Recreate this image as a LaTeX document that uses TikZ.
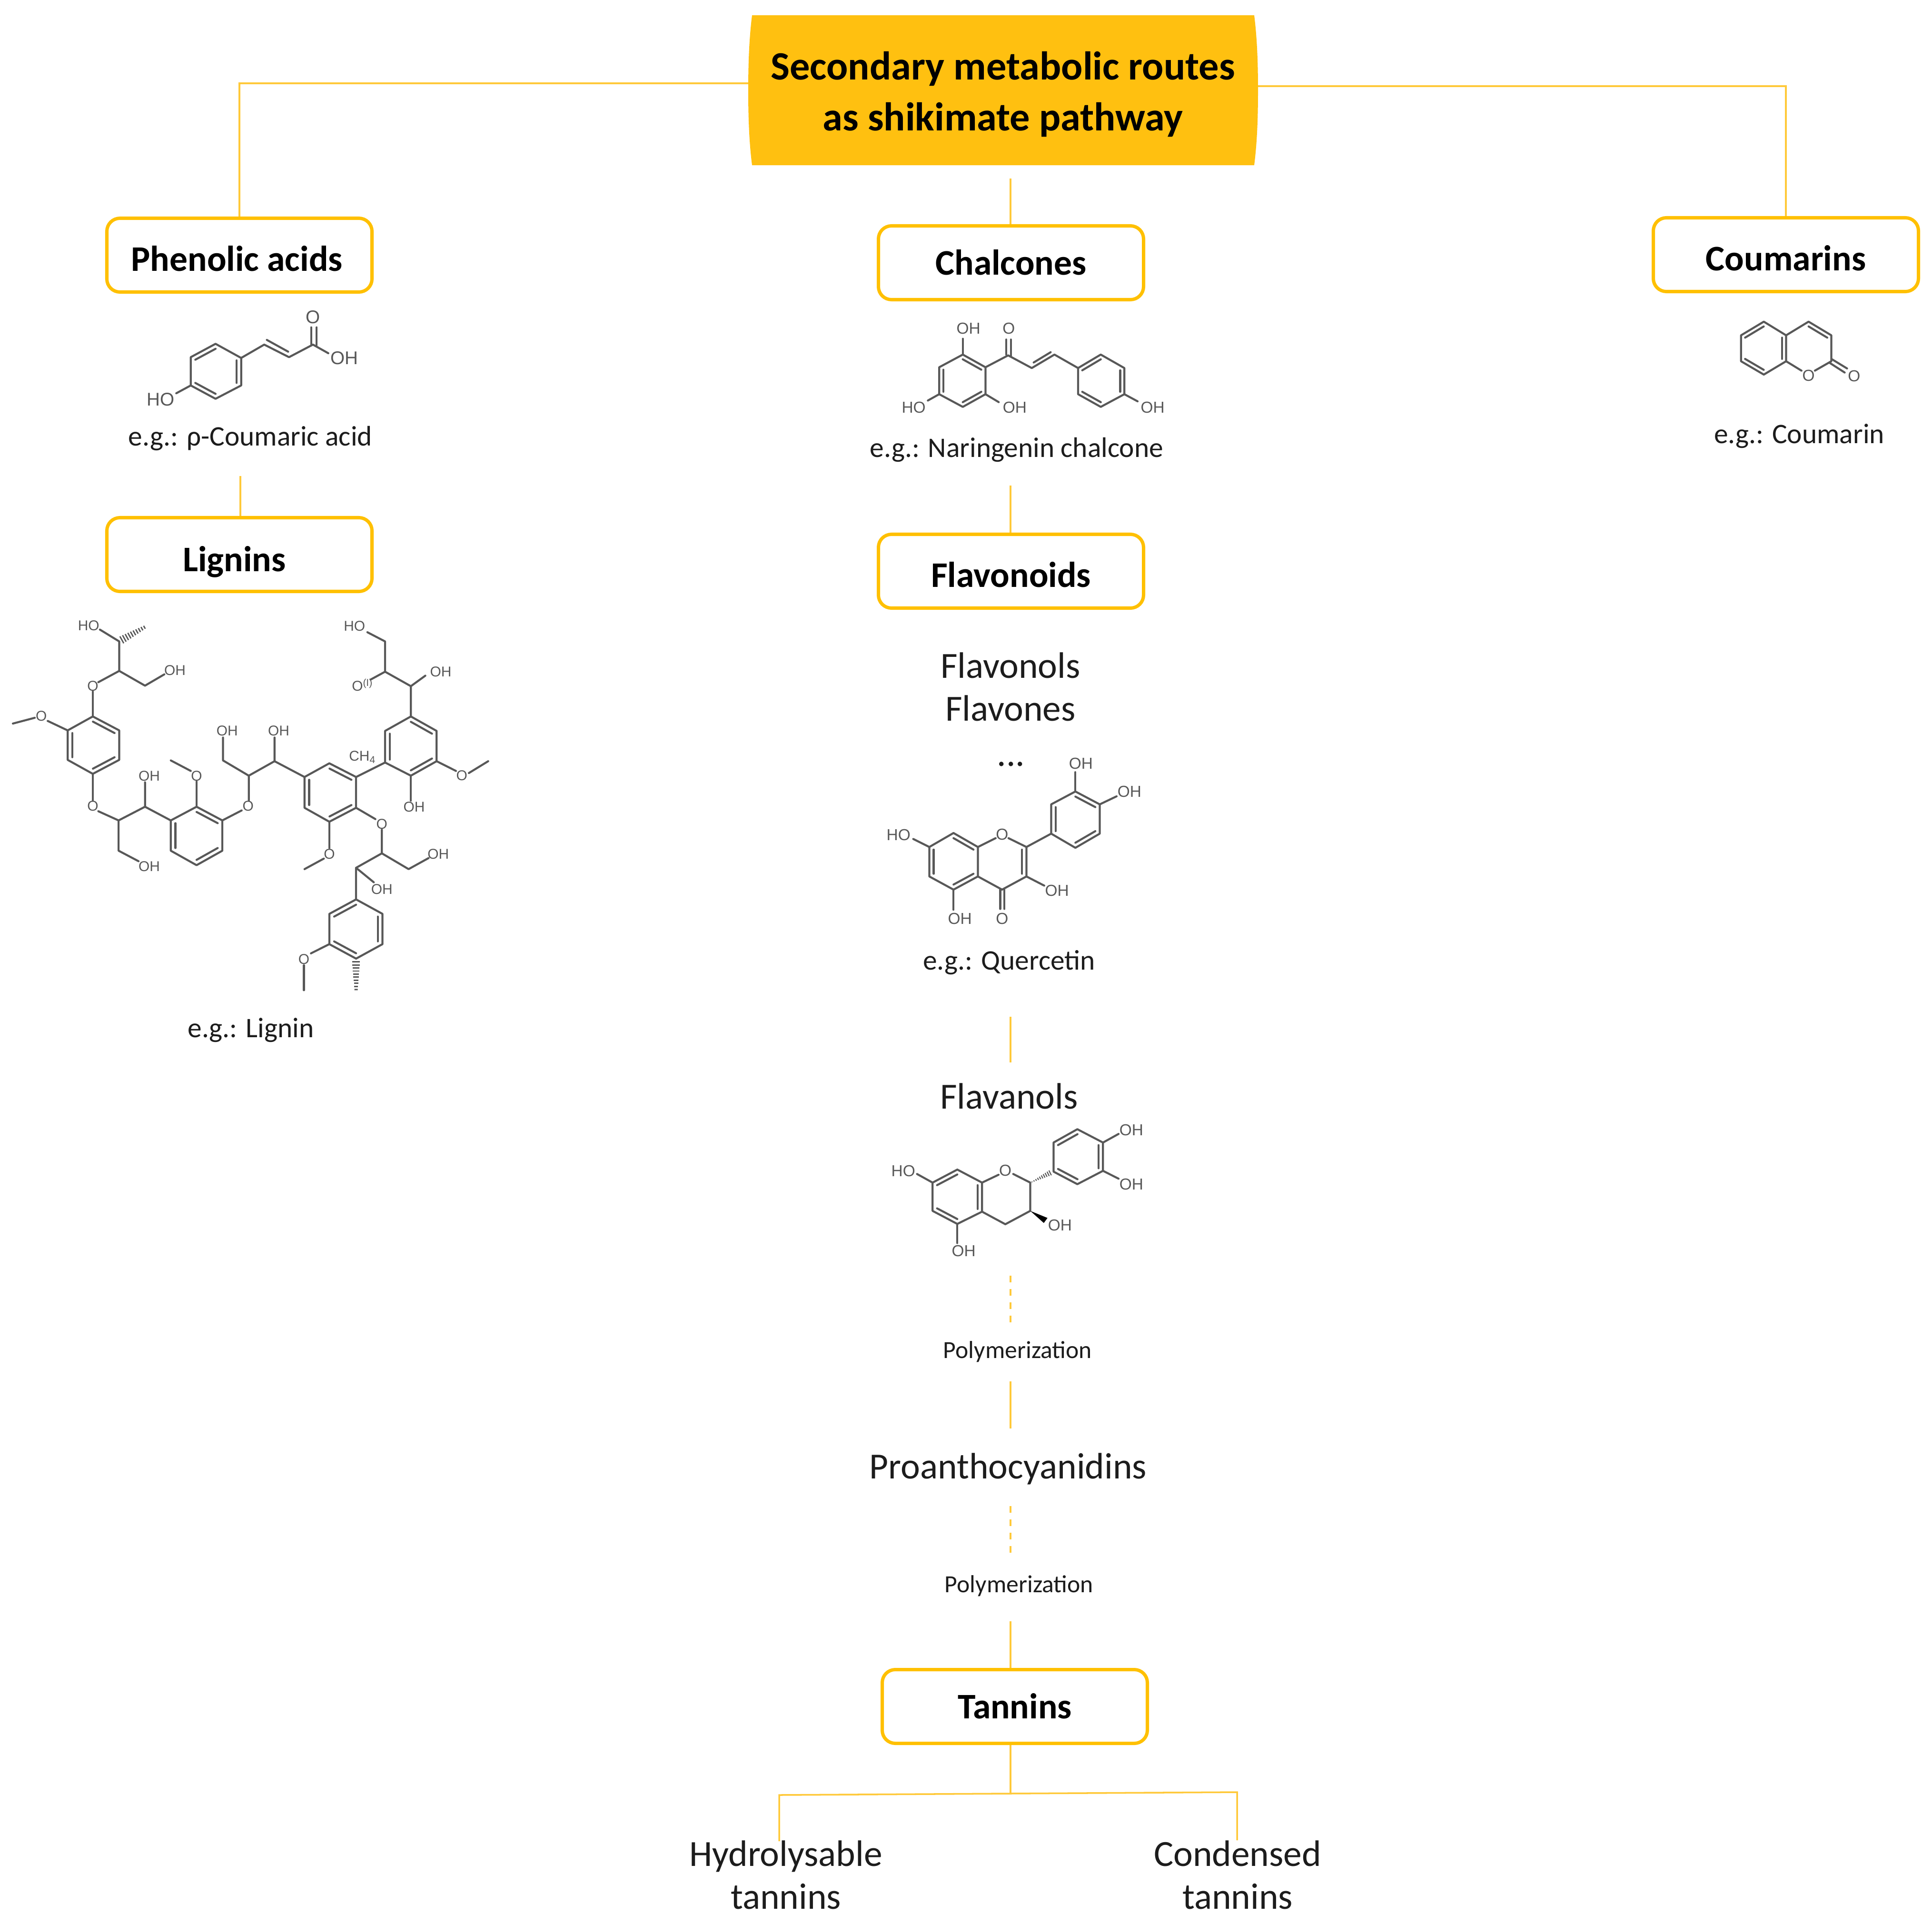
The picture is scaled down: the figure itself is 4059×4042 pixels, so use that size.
\documentclass[tikz,border=0pt]{standalone}
\usepackage{fontspec}
\setmainfont{Carlito}
\newfontfamily\chemfont{Liberation Sans}
\usetikzlibrary{calc}
\definecolor{amberfill}{HTML}{FFC010}
\definecolor{amberline}{HTML}{FFC000}
\definecolor{linkamber}{HTML}{FFC93A}
\definecolor{bondgray}{HTML}{585858}
\definecolor{labelblack}{HTML}{1C1C1C}
\tikzset{
  groupbox/.style={draw=amberline, line width=2pt, rounded corners=7.8pt, fill=white, minimum width=557*0.01cm, minimum height=155*0.01cm, inner sep=0pt, text height=14.5pt, text depth=0pt, font=\bfseries\fontsize{21.5pt}{25pt}\selectfont},
  link/.style={draw=linkamber, line width=1pt},
  dashlink/.style={link, dashed, dash pattern=on 4pt off 4pt},
  classname/.style={inner sep=0pt, text=labelblack, font=\fontsize{22pt}{25.5pt}\selectfont, align=center},
  example/.style={inner sep=0pt, text=labelblack, font=\fontsize{16.9pt}{20pt}\selectfont},
  stepnote/.style={inner sep=0pt, text=labelblack, font=\fontsize{14.7pt}{17pt}\selectfont},
  bond/.style={draw=bondgray, line width=1.2pt, line join=round, line cap=round},
  atom/.style={inner sep=0pt, text=bondgray, font=\chemfont\fontsize{#1}{#1}\selectfont},
  atom/.default=9.5pt
}
\newcommand{\ringdbl}[3]{\draw[bond] ($(#1)!.18!(#2)$) -- ($(#3)!.18!(#2)$);}
\newcommand{\hashbond}[4]{\foreach \t in {0,0.1,...,0.95} \draw[draw=bondgray, line width={(#3+#4*\t)*1pt}] ($(#1)!\t!(#2)$) -- ($(#1)!\t+0.045!(#2)$);}
\begin{document}
\begin{tikzpicture}[x=0.01cm, y=-0.01cm]
\useasboundingbox (0,0) rectangle (4059,4042);
\fill[amberfill] (1580,32) .. controls (1574,80) and (1572,130) .. (1572,190) .. controls (1572,250) and (1574,300) .. (1580,347) -- (2635,347) .. controls (2641,300) and (2643,250) .. (2643,190) .. controls (2643,130) and (2641,80) .. (2635,32) -- cycle;
\node[inner sep=0pt, minimum width=1071*0.01cm, minimum height=315*0.01cm, align=center, font=\bfseries\fontsize{24pt}{30.4pt}\selectfont] (main) at (2107,198) {Secondary metabolic routes\\as shikimate pathway};

\node[groupbox, text height=18.9pt] (phenolic) at (503,536) {Phenolic acids\hspace*{3pt}};
\node[groupbox] (chalcones) at (2124,552) {Chalcones};
\node[groupbox, text height=18.9pt] (coumarins) at (3752,535) {Coumarins};
\node[groupbox, text height=20.4pt] (lignins) at (503,1165) {Lignins\hspace*{6pt}};
\node[groupbox, text height=18.9pt] (flavonoids) at (2124,1200) {Flavonoids};
\node[groupbox] (tannins) at (2132,3585) {Tannins};

\node[example] (excoumaric) at (526,921) {e.g.: ρ-Coumaric acid};
\node[example] (exnaringenin) at (2136,945) {e.g.: Naringenin chalcone};
\node[example] (excoumarin) at (3780,916) {e.g.: Coumarin};
\node[example] (exlignin) at (527,2164) {e.g.: Lignin};
\node[classname] (flavonols) at (2123,1398) {Flavonols};
\node[classname] (flavones) at (2123,1488) {Flavones};
\node[classname] (more) at (2124,1605) {...};
\node[example] (exquercetin) at (2120,2022) {e.g.: Quercetin};
\node[classname] (flavanols) at (2120,2303) {Flavanols};
\node[stepnote] (polyone) at (2138,2840) {Polymerization};
\node[classname] (proantho) at (2118,3086) {Proanthocyanidins};
\node[stepnote] (polytwo) at (2141,3332) {Polymerization};
\node[classname] (hydrolysable) at (1651,3939) {Hydrolysable\\tannins};
\node[classname] (condensed) at (2600,3939) {Condensed\\tannins};

\coordinate (mainleft) at (1572,175);
\coordinate (mainright) at (2643,181);
\coordinate (chalconetop) at (2123,375);
\coordinate (ligninstart) at (505,1000);
\coordinate (flavonoidstart) at (2123,1020);
\coordinate (flavanoltop) at (2123,2136);
\coordinate (flavanolend) at (2123,2232);
\coordinate (polyonetop) at (2123,2680);
\coordinate (polyoneend) at (2123,2783);
\coordinate (proanthotop) at (2123,2902);
\coordinate (proanthoend) at (2123,3001);
\coordinate (polytwotop) at (2123,3164);
\coordinate (polytwoend) at (2123,3262);
\coordinate (tanninstart) at (2123,3406);
\coordinate (forkmid) at (2123,3768);
\coordinate (forkleft) at (1637,3771);
\coordinate (forkright) at (2599,3765);
\coordinate (hydrolysabletop) at (1637,3868);
\coordinate (condensedtop) at (2599,3866);

\draw[link] (mainleft) -| (phenolic.north);
\draw[link] (mainright) -| (coumarins.north);
\draw[link] (chalconetop) -- (chalconetop |- chalcones.north);
\draw[link] (ligninstart) -- (ligninstart |- lignins.north);
\draw[link] (flavonoidstart) -- (flavonoidstart |- flavonoids.north);
\draw[link] (flavanoltop) -- (flavanolend);
\draw[dashlink] (polyonetop) -- (polyoneend);
\draw[link] (proanthotop) -- (proanthoend);
\draw[dashlink] (polytwotop) -- (polytwoend);
\draw[link] (tanninstart) -- (tanninstart |- tannins.north);
\draw[link] (forkmid |- tannins.south) -- (forkmid);
\draw[link] (hydrolysabletop) -- (forkleft) -- (forkright) -- (condensedtop);

\begin{scope}[shift={(250,620)}, xscale=0.359, yscale=0.33]
\draw[bond] (715,400) -- (715,575) -- (565,660) -- (420,575) -- (420,395) -- (565,310) -- cycle;
\ringdbl{565,310}{567,485}{420,395}
\ringdbl{715,400}{567,485}{715,575}
\ringdbl{420,575}{567,485}{565,660}
\draw[bond] (420,575) -- (335,625);
\draw[bond] (715,400) -- (850,315) -- (995,395) -- (1135,315) -- (1225,370);
\draw[bond] (865,285) -- (990,360);
\draw[bond] (1125,315) -- (1125,205);
\draw[bond] (1157,325) -- (1157,205);
\node[atom=11pt] (cahydroxy) at (245,665) {HO};
\node[atom=11pt] (caoxo) at (1135,140) {O};
\node[atom=11pt] (caacid) at (1320,400) {OH};
\end{scope}

\begin{scope}[shift={(1860,650)}, xscale=0.397, yscale=0.333]
\draw[bond] (410,285) -- (530,365) -- (530,535) -- (410,615) -- (285,535) -- (285,365) -- cycle;
\ringdbl{410,285}{408,450}{530,365}
\ringdbl{530,535}{408,450}{410,615}
\ringdbl{285,365}{408,450}{285,535}
\draw[bond] (1020,370) -- (1140,285) -- (1265,370) -- (1265,535) -- (1140,615) -- (1020,535) -- cycle;
\ringdbl{1020,370}{1142,450}{1140,285}
\ringdbl{1265,370}{1142,450}{1265,535}
\ringdbl{1140,615}{1142,450}{1020,535}
\draw[bond] (410,285) -- (410,185);
\draw[bond] (285,535) -- (225,575);
\draw[bond] (530,535) -- (600,585);
\draw[bond] (530,365) -- (650,290) -- (775,370) -- (895,285) -- (1020,370);
\draw[bond] (785,335) -- (875,270);
\draw[bond] (640,285) -- (640,190);
\draw[bond] (664,295) -- (664,190);
\draw[bond] (1265,535) -- (1335,580);
\node[atom] (ncupper) at (440,120) {OH};
\node[atom] (ncoxo) at (653,120) {O};
\node[atom] (ncleft) at (150,620) {HO};
\node[atom] (nclower) at (685,620) {OH};
\node[atom] (ncright) at (1415,620) {OH};
\end{scope}

\begin{scope}[shift={(3600,650)}, xscale=0.33, yscale=0.33]
\draw[bond] (320,78) -- (462,165) -- (462,330) -- (320,415) -- (175,330) -- (175,165) -- cycle;
\ringdbl{320,78}{318,247}{175,165}
\ringdbl{462,165}{318,247}{462,330}
\ringdbl{320,415}{318,247}{175,330}
\draw[bond] (462,165) -- (605,78) -- (750,165) -- (750,330) -- (645,390);
\draw[bond] (560,390) -- (462,330);
\ringdbl{605,78}{605,247}{750,165}
\draw[bond] (755,318) -- (850,376);
\draw[bond] (742,342) -- (835,402);
\node[atom] (cmring) at (605,420) {O};
\node[atom] (cmoxo) at (895,425) {O};
\end{scope}

\begin{scope}[shift={(1830,1558)}, xscale=0.385, yscale=0.338]
\draw[bond] (450,568) -- (583,655) -- (583,838) -- (450,920) -- (318,838) -- (318,655) -- cycle;
\ringdbl{450,568}{450,745}{583,655}
\ringdbl{583,838}{450,745}{450,920}
\ringdbl{318,655}{450,745}{318,838}
\draw[bond] (583,655) -- (680,600);
\draw[bond] (750,600) -- (848,655) -- (848,838) -- (715,920) -- (583,838);
\ringdbl{848,655}{715,745}{848,838}
\draw[bond] (705,920) -- (705,1040);
\draw[bond] (728,920) -- (728,1040);
\draw[bond] (318,655) -- (230,605);
\draw[bond] (450,920) -- (450,1045);
\draw[bond] (848,838) -- (945,895);
\draw[bond] (848,655) -- (983,572);
\draw[bond] (983,572) -- (983,390) -- (1115,310) -- (1248,390) -- (1248,572) -- (1115,660) -- cycle;
\ringdbl{983,390}{1115,485}{983,572}
\ringdbl{1115,310}{1115,485}{1248,390}
\ringdbl{1248,572}{1115,485}{1115,660}
\draw[bond] (1115,310) -- (1115,190);
\draw[bond] (1248,390) -- (1340,340);
\node[atom] (qcleft) at (150,580) {HO};
\node[atom] (qclower) at (485,1100) {OH};
\node[atom] (qcring) at (715,578) {O};
\node[atom] (qcoxo) at (715,1100) {O};
\node[atom] (qcthree) at (1015,925) {OH};
\node[atom] (qcupper) at (1145,135) {OH};
\node[atom] (qcright) at (1410,310) {OH};
\end{scope}

\begin{scope}[shift={(1838,2331)}, xscale=0.385, yscale=0.33]
\draw[bond] (450,382) -- (585,465) -- (585,650) -- (450,728) -- (315,645) -- (315,465) -- cycle;
\ringdbl{450,382}{450,555}{315,465}
\ringdbl{585,465}{450,555}{585,650}
\ringdbl{315,645}{450,555}{450,728}
\draw[bond] (585,465) -- (675,415);
\draw[bond] (755,410) -- (848,465) -- (848,645) -- (712,730) -- (585,650);
\draw[bond] (315,465) -- (230,410);
\draw[bond] (450,728) -- (450,850);
\hashbond{855,462}{965,398}{0.5}{3}
\fill[black] (848,645) -- (922,722) -- (942,690) -- cycle;
\draw[bond] (975,395) -- (975,210) -- (1105,125) -- (1245,210) -- (1245,390) -- (1105,475) -- cycle;
\ringdbl{975,210}{1110,300}{1105,125}
\ringdbl{1245,210}{1110,300}{1245,390}
\ringdbl{1105,475}{1110,300}{975,395}
\draw[bond] (1245,210) -- (1330,155);
\draw[bond] (1245,390) -- (1330,440);
\node[atom] (ctleft) at (155,390) {HO};
\node[atom] (ctlower) at (485,900) {OH};
\node[atom] (ctring) at (712,388) {O};
\node[atom] (ctthree) at (1010,735) {OH};
\node[atom] (ctupper) at (1400,130) {OH};
\node[atom] (ctright) at (1400,475) {OH};
\end{scope}

\begin{scope}[shift={(0,1248)}, xscale=0.677, yscale=0.553]
\hashbond{450,125}{372,178}{2}{3}
\draw[bond] (310,135) -- (370,180) -- (370,292) -- (450,348) -- (510,305);
\draw[bond] (370,292) -- (305,335);
\draw[bond] (288,370) -- (288,465);
\draw[bond] (288,465) -- (370,518) -- (370,630) -- (288,683) -- (210,630) -- (210,518) -- cycle;
\ringdbl{288,465}{290,574}{370,518}
\ringdbl{370,630}{290,574}{288,683}
\ringdbl{210,518}{290,574}{210,630}
\draw[bond] (210,518) -- (148,482);
\draw[bond] (108,470) -- (40,492);
\draw[bond] (288,683) -- (288,785);
\draw[bond] (305,825) -- (368,860) -- (450,808) -- (450,715);
\draw[bond] (368,860) -- (368,975) -- (430,1015);
\draw[bond] (450,808) -- (530,860);
\draw[bond] (530,860) -- (610,808) -- (690,860) -- (690,975) -- (610,1030) -- (530,975) -- cycle;
\ringdbl{610,808}{610,918}{690,860}
\ringdbl{690,975}{610,918}{610,1030}
\ringdbl{530,860}{610,918}{530,975}
\draw[bond] (610,808) -- (610,712);
\draw[bond] (592,672) -- (530,632);
\draw[bond] (690,860) -- (750,822);
\draw[bond] (772,785) -- (772,690) -- (692,632) -- (692,545);
\draw[bond] (772,690) -- (852,635) -- (852,545);
\draw[bond] (852,635) -- (945,695);
\draw[bond] (945,695) -- (1022,643) -- (1105,695) -- (1105,812) -- (1022,865) -- (945,812) -- cycle;
\ringdbl{1022,643}{1025,754}{1105,695}
\ringdbl{1105,812}{1025,754}{1022,865}
\ringdbl{945,695}{1025,754}{945,812}
\draw[bond] (1105,695) -- (1195,640);
\draw[bond] (1022,865) -- (1022,965);
\draw[bond] (1005,1005) -- (945,1045);
\draw[bond] (1105,812) -- (1165,855);
\draw[bond] (1185,895) -- (1185,985) -- (1268,1045) -- (1330,1003);
\draw[bond] (1185,985) -- (1105,1040) -- (1105,1160);
\draw[bond] (1105,1040) -- (1160,1095);
\draw[bond] (1105,1160) -- (1187,1215) -- (1187,1330) -- (1105,1385) -- (1022,1330) -- (1022,1215) -- cycle;
\ringdbl{1105,1160}{1105,1272}{1022,1215}
\ringdbl{1187,1215}{1105,1272}{1187,1330}
\ringdbl{1022,1330}{1105,1272}{1105,1385}
\draw[bond] (1022,1330) -- (965,1365);
\draw[bond] (943,1410) -- (943,1505);
\hashbond{1105,1505}{1105,1388}{2}{3}
\draw[bond] (1275,465) -- (1355,520) -- (1355,635) -- (1275,690) -- (1195,640) -- (1195,520) -- cycle;
\ringdbl{1275,465}{1275,578}{1355,520}
\ringdbl{1355,635}{1275,578}{1275,690}
\ringdbl{1195,520}{1275,578}{1195,640}
\draw[bond] (1355,635) -- (1415,672);
\draw[bond] (1455,680) -- (1515,635);
\draw[bond] (1275,690) -- (1275,785);
\draw[bond] (1275,465) -- (1275,350) -- (1195,295) -- (1195,180) -- (1140,145);
\draw[bond] (1195,295) -- (1150,325);
\draw[bond] (1275,350) -- (1320,310);
\node[atom=8.5pt] (lgtophydroxy) at (275,120) {HO};
\node[atom=8.5pt] (lgtopacid) at (543,290) {OH};
\node[atom=8.5pt] (lgtopether) at (288,350) {O};
\node[atom=8.5pt] (lgmethoxya) at (128,463) {O};
\node[atom=8.5pt] (lgethera) at (288,805) {O};
\node[atom=8.5pt] (lgalcohola) at (463,692) {OH};
\node[atom=8.5pt] (lgalcoholb) at (463,1035) {OH};
\node[atom=8.5pt] (lgmethoxyb) at (610,692) {O};
\node[atom=8.5pt] (lgetherb) at (770,805) {O};
\node[atom=8.5pt] (lgalcoholc) at (705,520) {OH};
\node[atom=8.5pt] (lgalcohold) at (865,520) {OH};
\node[atom=8.5pt] (lgmethoxyc) at (1022,988) {O};
\node[atom=8.5pt] (lgetherc) at (1185,873) {O};
\node[atom=8.5pt] (lgalcohole) at (1360,987) {OH};
\node[atom=8.5pt] (lgalcoholf) at (1185,1122) {OH};
\node[atom=8.5pt] (lgmethoxyd) at (943,1387) {O};
\node[atom=8.5pt] (lgmethyl) at (1125,620) {CH\textsubscript{4}};
\node[atom=8.5pt] (lgmethoxye) at (1433,690) {O};
\node[atom=8.5pt] (lgphenol) at (1285,808) {OH};
\node[atom=8.5pt] (lgtophydroxyb) at (1100,122) {HO};
\node[atom=8.5pt] (lglinkage) at (1125,345) {O\textsuperscript{(I)}};
\node[atom=8.5pt] (lgalcoholg) at (1368,295) {OH};
\end{scope}
\end{tikzpicture}
\end{document}
